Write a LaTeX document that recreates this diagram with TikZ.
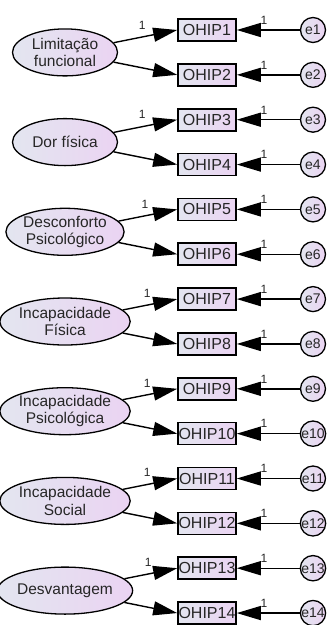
\documentclass[tikz,border=0pt]{standalone}
\usepackage{fontspec}
\setmainfont{Liberation Sans}
\usepackage{tikz}
\usetikzlibrary{arrows.meta}
\usetikzlibrary{shapes.geometric}
\tikzset{load/.style = {line width = 1.4, -{Triangle[length = 24pt, width = 14pt]}}}
\tikzset{obs/.style = {draw, line width = 1.6, minimum width = 58, minimum height = 22,
                       inner sep = 0, left color = lgray, right color = lpurple,
                       text = tgray, font = \fontsize{16}{18}\selectfont}}
\tikzset{lat/.style = {ellipse, draw, line width = 1.3, minimum width = 105, minimum height = 47,
                       inner sep = 0, align = center, left color = lgray, right color = lpurple,
                       text = tgray, font = \fontsize{15.5}{17.5}\selectfont}}
\tikzset{err/.style = {circle, draw, line width = 1.3, minimum size = 25, inner sep = 0,
                       left color = lgray, right color = lpurple,
                       text = tgray, font = \fontsize{14}{15}\selectfont}}
\tikzset{wt/.style = {font = \fontsize{12}{13}\selectfont, text = tgray, inner sep = 1}}
\definecolor{lgray}{rgb}{0.89, 0.9, 0.94}
\definecolor{lpurple}{rgb}{0.92, 0.83, 0.95}
\definecolor{tgray}{rgb}{0.15, 0.15, 0.15}

\begin{document}
\begin{tikzpicture}[x = 1pt, y = -1pt]
    \useasboundingbox (0, 0) rectangle (328, 625);

    \node [obs] (ohip1)  at (207, 30)     {OHIP1};
    \node [obs] (ohip2)  at (207, 74.85)  {OHIP2};
    \node [obs] (ohip3)  at (207, 119.7)  {OHIP3};
    \node [obs] (ohip4)  at (207, 164.55) {OHIP4};
    \node [obs] (ohip5)  at (207, 209.4)  {OHIP5};
    \node [obs] (ohip6)  at (207, 254.25) {OHIP6};
    \node [obs] (ohip7)  at (207, 299.1)  {OHIP7};
    \node [obs] (ohip8)  at (207, 343.95) {OHIP8};
    \node [obs] (ohip9)  at (207, 388.8)  {OHIP9};
    \node [obs] (ohip10) at (207, 433.65) {OHIP10};
    \node [obs] (ohip11) at (207, 478.5)  {OHIP11};
    \node [obs] (ohip12) at (207, 523.35) {OHIP12};
    \node [obs] (ohip13) at (207, 568.2)  {OHIP13};
    \node [obs] (ohip14) at (207, 613.05) {OHIP14};

    \node [err] (e1)  at (313, 30)     {e1};
    \node [err] (e2)  at (313, 74.85)  {e2};
    \node [err] (e3)  at (313, 119.7)  {e3};
    \node [err] (e4)  at (313, 164.55) {e4};
    \node [err] (e5)  at (313, 209.4)  {e5};
    \node [err] (e6)  at (313, 254.25) {e6};
    \node [err] (e7)  at (313, 299.1)  {e7};
    \node [err] (e8)  at (313, 343.95) {e8};
    \node [err] (e9)  at (313, 388.8)  {e9};
    \node [err] (e10) at (313, 433.65) {e10};
    \node [err] (e11) at (313, 478.5)  {e11};
    \node [err] (e12) at (313, 523.35) {e12};
    \node [err] (e13) at (313, 568.2)  {e13};
    \node [err] (e14) at (313, 613.05) {e14};

    \node [lat] (limfun) at (65, 52.4)  {Limitação\\funcional};
    \node [lat] (dorfis) at (65, 142.1) {Dor física};
    \node [lat] (despsi) at (65, 231.8) {Desconforto\\Psicológico};
    \node [lat] (incfis) at (65, 321.5) {Incapacidade\\Física};
    \node [lat] (incpsi) at (65, 411.2) {Incapacidade\\Psicológica};
    \node [lat] (incsoc) at (65, 500.9) {Incapacidade\\Social};
    \node [lat] (desvan) at (65, 590.6) {Desvantagem};

    \draw [load] (limfun) -- node [wt, pos = 0.45, above = 6] {1} (ohip1.west);
    \draw [load] (limfun) -- (ohip2.west);
    \draw [load] (dorfis) -- node [wt, pos = 0.45, above = 6] {1} (ohip3.west);
    \draw [load] (dorfis) -- (ohip4.west);
    \draw [load] (despsi) -- node [wt, pos = 0.45, above = 6] {1} (ohip5.west);
    \draw [load] (despsi) -- (ohip6.west);
    \draw [load] (incfis) -- node [wt, pos = 0.45, above = 6] {1} (ohip7.west);
    \draw [load] (incfis) -- (ohip8.west);
    \draw [load] (incpsi) -- node [wt, pos = 0.45, above = 6] {1} (ohip9.west);
    \draw [load] (incpsi) -- (ohip10.west);
    \draw [load] (incsoc) -- node [wt, pos = 0.45, above = 6] {1} (ohip11.west);
    \draw [load] (incsoc) -- (ohip12.west);
    \draw [load] (desvan) -- node [wt, pos = 0.45, above = 6] {1} (ohip13.west);
    \draw [load] (desvan) -- (ohip14.west);

    \draw [load] (e1)  -- node [wt, pos = 0.57, above = 4] {1} (ohip1);
    \draw [load] (e2)  -- node [wt, pos = 0.57, above = 4] {1} (ohip2);
    \draw [load] (e3)  -- node [wt, pos = 0.57, above = 4] {1} (ohip3);
    \draw [load] (e4)  -- node [wt, pos = 0.57, above = 4] {1} (ohip4);
    \draw [load] (e5)  -- node [wt, pos = 0.57, above = 4] {1} (ohip5);
    \draw [load] (e6)  -- node [wt, pos = 0.57, above = 4] {1} (ohip6);
    \draw [load] (e7)  -- node [wt, pos = 0.57, above = 4] {1} (ohip7);
    \draw [load] (e8)  -- node [wt, pos = 0.57, above = 4] {1} (ohip8);
    \draw [load] (e9)  -- node [wt, pos = 0.57, above = 4] {1} (ohip9);
    \draw [load] (e10) -- node [wt, pos = 0.57, above = 4] {1} (ohip10);
    \draw [load] (e11) -- node [wt, pos = 0.57, above = 4] {1} (ohip11);
    \draw [load] (e12) -- node [wt, pos = 0.57, above = 4] {1} (ohip12);
    \draw [load] (e13) -- node [wt, pos = 0.57, above = 4] {1} (ohip13);
    \draw [load] (e14) -- node [wt, pos = 0.57, above = 4] {1} (ohip14);
  \end{tikzpicture}
\end{document}
